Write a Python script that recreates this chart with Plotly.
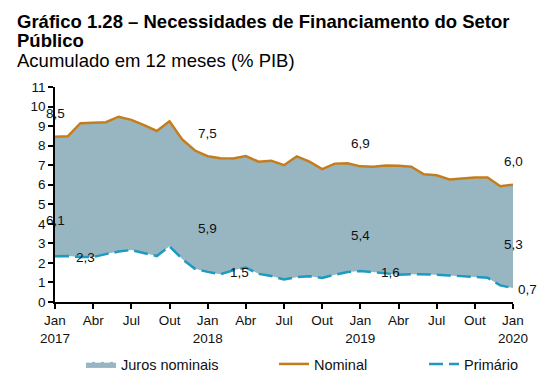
import plotly.graph_objects as go

# ---------------- data ----------------
month_names = ["Jan", "Fev", "Mar", "Abr", "Mai", "Jun", "Jul", "Ago", "Set", "Out", "Nov", "Dez"]
months = [f"{month_names[m]}/{y}" for y in (2017, 2018, 2019) for m in range(12)] + ["Jan/2020"]

nominal = [8.46, 8.48, 9.15, 9.18, 9.20, 9.48, 9.32, 9.05, 8.75, 9.25, 8.32, 7.75,
           7.46, 7.35, 7.34, 7.47, 7.18, 7.23, 7.00, 7.45, 7.18, 6.80, 7.08, 7.10,
           6.94, 6.92, 6.98, 6.97, 6.92, 6.53, 6.48, 6.27, 6.32, 6.37, 6.37, 5.92,
           6.00]
primario = [2.34, 2.35, 2.30, 2.30, 2.45, 2.58, 2.66, 2.50, 2.35, 2.85, 2.20, 1.70,
            1.54, 1.42, 1.62, 1.76, 1.44, 1.33, 1.15, 1.27, 1.32, 1.23, 1.40, 1.53,
            1.58, 1.53, 1.45, 1.40, 1.42, 1.42, 1.40, 1.36, 1.31, 1.27, 1.24, 0.85,
            0.71]
juros = [n - p for n, p in zip(nominal, primario)]

tick_months = months[::3]
tick_text = ["Jan<br>2017", "Abr", "Jul", "Out", "Jan<br>2018", "Abr", "Jul", "Out",
             "Jan<br>2019", "Abr", "Jul", "Out", "Jan<br>2020"]
label_idx = [0, 12, 24, 36]

title_lines = ["<b>Gráfico 1.28 – Necessidades de Financiamento do Setor</b>",
               "<b>Público</b>",
               "Acumulado em 12 meses (% PIB)"]

# ---------------- styles ----------------
FONT = "Liberation Sans, Arial, sans-serif"
C_FILL = "#97B6C1"
C_NOM = "#C47D1C"
C_PRI = "#1C9AC0"

W, H = 547, 392
ML, MR, MT, MB = 55, 34, 87, 90
PW, PH = W - ML - MR, H - MT - MB

def px_x(px):
    return (px - ML) / PW

def px_y(py):
    return (H - MB - py) / PH

fig = go.Figure()

fig.add_trace(go.Scatter(x=months, y=primario, mode="lines",
                         line=dict(color="rgba(255,255,255,0)", width=0),
                         showlegend=False, hoverinfo="skip"))
fig.add_trace(go.Scatter(x=months, y=nominal, mode="lines", fill="tonexty",
                         fillcolor=C_FILL,
                         line=dict(color="rgba(255,255,255,0.9)", width=1.5, dash="6px,3px"),
                         name="Juros nominais", legend="legend"))
fig.add_trace(go.Scatter(x=months, y=nominal, mode="lines",
                         line=dict(color=C_NOM, width=2.5),
                         name="Nominal", legend="legend2"))
fig.add_trace(go.Scatter(x=months, y=primario, mode="lines",
                         line=dict(color=C_PRI, width=2.5, dash="14px,6px"),
                         name="Primário", legend="legend3"))

def fmt(v):
    return f"{v:.1f}".replace(".", ",")

annotations = []
jur_shift = [36, 43, 36, 44]
pri_xshift = [19, 20, 19, 3]
lab_font = dict(family=FONT, size=13.5, color="#111")
for k, i in enumerate(label_idx):
    annotations.append(dict(x=months[i], y=nominal[i], text=fmt(nominal[i]),
                            showarrow=False, yshift=23, xanchor="center", yanchor="middle",
                            font=lab_font))
    annotations.append(dict(x=months[i], y=primario[i], text=fmt(juros[i]),
                            showarrow=False, yshift=jur_shift[k], xanchor="center", yanchor="middle",
                            font=lab_font))
    annotations.append(dict(x=months[i], y=primario[i], text=fmt(primario[i]),
                            showarrow=False, xshift=pri_xshift[k], yshift=-1,
                            xanchor="left", yanchor="middle", font=lab_font))

title_y = [21, 40, 60]
for t, ty in zip(title_lines, title_y):
    annotations.append(dict(xref="paper", yref="paper", x=px_x(15), y=px_y(ty),
                            text=t, showarrow=False, xanchor="left", yanchor="middle",
                            font=dict(family=FONT, size=18.5, color="#000")))

leg_common = dict(orientation="h", yanchor="middle", y=px_y(364), xanchor="left",
                  font=dict(family=FONT, size=14.5, color="#111"),
                  bgcolor="rgba(0,0,0,0)", borderwidth=0)

fig.update_layout(
    width=W, height=H,
    margin=dict(l=ML, r=MR, t=MT, b=MB),
    paper_bgcolor="white", plot_bgcolor="white",
    font=dict(family=FONT, size=13, color="#111"),
    xaxis=dict(type="category", range=[0, len(months) - 1],
               tickmode="array", tickvals=tick_months, ticktext=tick_text,
               showline=True, linecolor="black", linewidth=1.5,
               ticks="outside", ticklen=5, tickwidth=1.5, tickcolor="black",
               showgrid=False, zeroline=False, automargin=False,
               tickfont=dict(family=FONT, size=13.5, color="#111")),
    yaxis=dict(range=[0, 11], dtick=1, tick0=0,
               showline=True, linecolor="black", linewidth=1.5,
               ticks="outside", ticklen=5, tickwidth=1.5, tickcolor="black",
               showgrid=False, zeroline=False, automargin=False,
               tickfont=dict(family=FONT, size=13.5, color="#111")),
    legend=dict(x=px_x(81), **leg_common),
    legend2=dict(x=px_x(274), **leg_common),
    legend3=dict(x=px_x(424), **leg_common),
    annotations=annotations,
)

fig.write_html("out.html", config={"displayModeBar": False},
               post_script="document.body.style.margin='0';document.body.style.overflow='hidden';")
